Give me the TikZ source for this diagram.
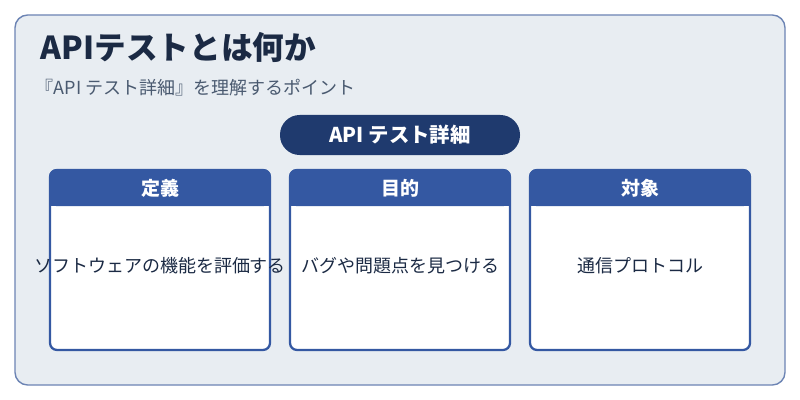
\documentclass[tikz,border=0pt]{standalone}
\usepackage{fontspec}
\setmainfont{Noto Sans CJK JP}
\usetikzlibrary{positioning}
\definecolor{bgpanel}{HTML}{E8EDF2}
\definecolor{panelline}{HTML}{6C84B4}
\definecolor{titlecol}{HTML}{1B2A44}
\definecolor{subcol}{HTML}{4A5A70}
\definecolor{pillcol}{HTML}{1F3A6E}
\definecolor{cardcol}{HTML}{3458A2}
\begin{document}
\begin{tikzpicture}[x=0.025cm,y=-0.025cm,
                    cardbody/.style={draw=cardcol,line width=1.6pt,fill=white,rounded corners=5pt},
                    cardhead/.style={fill=cardcol,rounded corners=5pt},
                    headtext/.style={text=white,font=\bfseries\fontsize{13.5}{15}\selectfont},
                    bodytext/.style={text=titlecol,font=\fontsize{12.8}{15}\selectfont}]
 \useasboundingbox (0,0) rectangle (800,400);
 \fill[white] (0,0) rectangle (800,400);

%Outer panel
 \draw[draw=panelline,fill=bgpanel,line width=1pt,rounded corners=9pt] (15,15) rectangle (785,385);

 \node[anchor=west,text=titlecol,font=\bfseries\fontsize{22.5}{26}\selectfont] (title) at (36,47) {APIテストとは何か};
 \node[anchor=west,text=subcol,font=\fontsize{12.8}{15}\selectfont] (subtitle) at (31,88) {『API テスト詳細』を理解するポイント};

%Pill
 \fill[pillcol,rounded corners=14pt] (280,115) rectangle (520,155);
 \node[text=white,font=\bfseries\fontsize{14.5}{16}\selectfont] (pill) at (400,135) {API テスト詳細};

%Cards
 \foreach \x/\head/\body/\name in {50/定義/ソフトウェアの機能を評価する/def,
                                    290/目的/バグや問題点を見つける/goal,
                                    530/対象/通信プロトコル/target}
 {
   \draw[cardbody] (\x,170) rectangle (\x+220,350);
   \fill[cardhead] (\x-0.8,169.2) rectangle (\x+220.8,206);
   \fill[cardcol] (\x-0.8,195) rectangle (\x+220.8,206);
   \node[headtext] (\name head) at (\x+110,188) {\head};
   \node[bodytext] (\name body) at (\x+110,266) {\body};
 }
\end{tikzpicture}
\end{document}
